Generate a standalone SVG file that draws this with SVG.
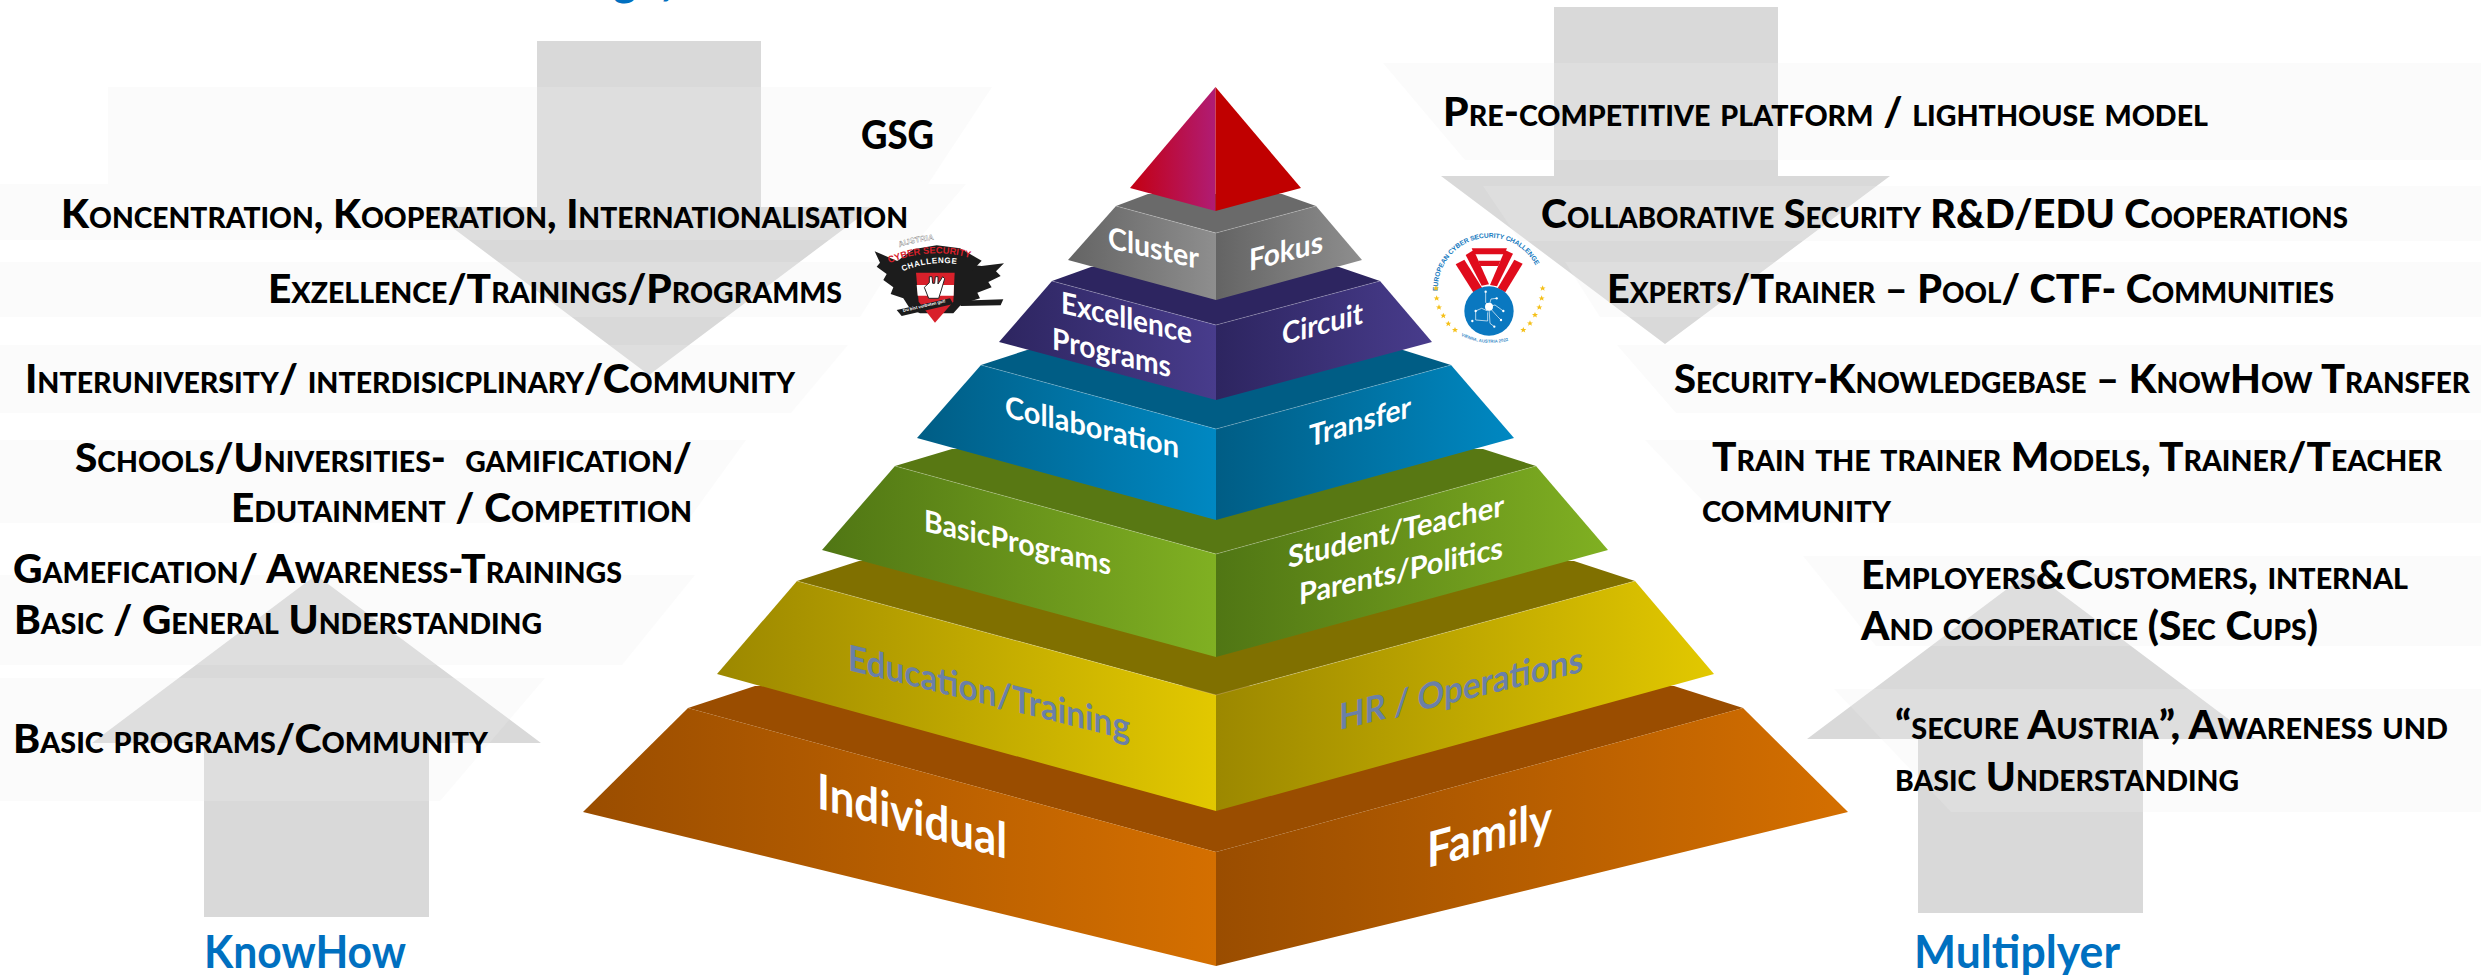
<svg xmlns="http://www.w3.org/2000/svg" width="2481" height="975" viewBox="0 0 2481 975">
<style>
.arrow{fill:#d9d9d9}
.band{fill:#eeeeee;opacity:.24}
.t{font-family:Lato,"Open Sans","Liberation Sans",sans-serif;font-weight:900;font-size:40px;fill:#000;font-variant:small-caps;white-space:pre}
.h{font-family:Lato,"Open Sans","Liberation Sans",sans-serif;font-weight:700;font-size:45px;fill:#0070c0}
.l{font-family:Lato,"Open Sans","Liberation Sans",sans-serif;font-weight:700;font-size:30px;fill:#fff}
.xl{font-size:49px}
.g{font-size:36px;fill:#6a80a8}
.seam{fill:none;stroke:#fff;stroke-opacity:.22;stroke-width:1}
.lg{font-family:"Liberation Sans",Arial,sans-serif;font-weight:700}
</style>
<defs>
<linearGradient id="gO"><stop offset="0" stop-color="#9a4d00"/><stop offset="1" stop-color="#d46f00"/></linearGradient>
<linearGradient id="gY"><stop offset="0" stop-color="#9c8800"/><stop offset="1" stop-color="#e2c800"/></linearGradient>
<linearGradient id="gG"><stop offset="0" stop-color="#507614"/><stop offset="1" stop-color="#80b022"/></linearGradient>
<linearGradient id="gB"><stop offset="0" stop-color="#005d85"/><stop offset="1" stop-color="#0088c2"/></linearGradient>
<linearGradient id="gP"><stop offset="0" stop-color="#2d2560"/><stop offset="1" stop-color="#483c8c"/></linearGradient>
<linearGradient id="gK"><stop offset="0" stop-color="#646464"/><stop offset="1" stop-color="#8e8e8e"/></linearGradient>
<linearGradient id="gR"><stop offset="0" stop-color="#c40012"/><stop offset="1" stop-color="#b01c74"/></linearGradient>
<polygon id="star" points="0,-9 2.6,-2.8 9,-2.8 3.9,1.2 5.8,7.5 0,3.8 -5.8,7.5 -3.9,1.2 -9,-2.8 -2.6,-2.8" fill="#f5c018"/>
<path id="arcE" d="M38 198 A155 155 0 0 1 350 190"/>
<path id="arcV" d="M108 332 Q190 372 278 338"/>
<path id="arcA1" d="M88 52 Q150 30 235 26"/>
<path id="arcA2" d="M58 100 Q195 40 350 100"/>
<path id="arcA3" d="M98 124 Q200 80 315 114"/>
</defs>

<g id="connectors">
<polygon class="arrow" points="537,41 761,41 761,207 873,207 649,375 425,207 537,207"/>
<polygon class="arrow" points="1554,7 1778,7 1778,176 1890,176 1665,344 1441,176 1554,176"/>
<polygon class="arrow" points="204,917 429,917 429,743 541,743 316,575 92,743 204,743"/>
<polygon class="arrow" points="1918,913 2143,913 2143,739 2255,739 2031,571 1807,739 1918,739"/>
</g>

<g id="bands">
<polygon class="band" points="108,87 992,87 928,184 108,184"/>
<polygon class="band" points="0,184 966,184 918,240 0,240"/>
<polygon class="band" points="0,262 895,262 860,317 0,317"/>
<polygon class="band" points="0,345 848,345 791,413 0,413"/>
<polygon class="band" points="0,440 746,440 686,523 0,523"/>
<polygon class="band" points="0,575 695,575 622,665 0,665"/>
<polygon class="band" points="0,678 545,678 440,801 0,801"/>
<polygon class="band" points="1383,63 2481,63 2481,160 1465,160"/>
<polygon class="band" points="1483,186 2481,186 2481,241 1520,241"/>
<polygon class="band" points="1565,262 2481,262 2481,317 1600,317"/>
<polygon class="band" points="1617,345 2481,345 2481,413 1676,413"/>
<polygon class="band" points="1645,440 2481,440 2481,523 1724,523"/>
<polygon class="band" points="1803,556 2481,556 2481,646 1876,646"/>
<polygon class="band" points="1834,689 2481,689 2481,812 1951,812"/>
</g>

<g id="tier-individual">
<polygon fill="#9a4d00" points="688,708 755,686 1674,686 1743,708 1216,852"/>
<polygon fill="url(#gO)" points="688,708 1216,852 1216,966 583,812"/>
<polygon fill="url(#gO)" points="1216,852 1743,708 1848,812 1216,966"/>
<text class="l xl" transform="translate(817,808) skewY(15)" textLength="190" lengthAdjust="spacingAndGlyphs">Individual</text>
<text class="l xl" transform="translate(1427,868) skewY(-15)" textLength="125" lengthAdjust="spacingAndGlyphs">Family</text>
</g>

<g id="tier-education">
<polygon fill="#807000" points="797,581 859,561 1574,561 1635,581 1216,695"/>
<polygon fill="url(#gY)" points="797,581 1216,695 1216,811 717,674"/>
<polygon fill="url(#gY)" points="1216,695 1635,581 1714,674 1216,811"/>
<polyline class="seam" points="797,581 1216,695 1635,581"/>
<text class="l g" transform="translate(848,670) skewY(14)" textLength="282" lengthAdjust="spacingAndGlyphs">Education/Training</text>
<text class="l g" transform="translate(1339,730) skewY(-13.5)" textLength="244" lengthAdjust="spacingAndGlyphs">HR / Operations</text>
</g>

<g id="tier-basic">
<polygon fill="#587813" points="895,466 952,449 1483,449 1536,466 1216,554"/>
<polygon fill="url(#gG)" points="895,466 1216,554 1216,657 822,550"/>
<polygon fill="url(#gG)" points="1216,554 1536,466 1608,550 1216,657"/>
<polyline class="seam" points="895,466 1216,554 1536,466"/>
<text class="l" transform="translate(924,531) skewY(13.3)" textLength="187" lengthAdjust="spacingAndGlyphs">BasicPrograms</text>
<text class="l" transform="translate(1288,568) skewY(-13.6)" textLength="216" lengthAdjust="spacingAndGlyphs">Student/Teacher</text>
<text class="l" transform="translate(1299,605) skewY(-13)" textLength="204" lengthAdjust="spacingAndGlyphs">Parents/Politics</text>
</g>

<g id="tier-collaboration">
<polygon fill="#005d85" points="981,365 1027,350 1403,350 1451,365 1216,429"/>
<polygon fill="url(#gB)" points="981,365 1216,429 1216,520 917,438"/>
<polygon fill="url(#gB)" points="1216,429 1451,365 1514,438 1216,520"/>
<polyline class="seam" points="981,365 1216,429 1451,365"/>
<text class="l" transform="translate(1005,417) skewY(13.3)" textLength="174" lengthAdjust="spacingAndGlyphs">Collaboration</text>
<text class="l" transform="translate(1309,447) skewY(-16.5)" textLength="102" lengthAdjust="spacingAndGlyphs">Transfer</text>
</g>

<g id="tier-excellence">
<polygon fill="#2d2560" points="1052,281 1091,267 1339,267 1380,281 1216,325"/>
<polygon fill="url(#gP)" points="1052,281 1216,325 1216,400 999,342"/>
<polygon fill="url(#gP)" points="1216,325 1380,281 1432,342 1216,400"/>
<polyline class="seam" points="1052,281 1216,325 1380,281"/>
<text class="l" transform="translate(1061,313) skewY(13.3)" textLength="131" lengthAdjust="spacingAndGlyphs">Excellence</text>
<text class="l" transform="translate(1052,349) skewY(13.5)" textLength="119" lengthAdjust="spacingAndGlyphs">Programs</text>
<text class="l" transform="translate(1282,345) skewY(-15)" textLength="81" lengthAdjust="spacingAndGlyphs">Circuit</text>
</g>

<g id="tier-cluster">
<polygon fill="#6a6a6a" points="1116,206 1148,194 1282,194 1316,206 1216,233"/>
<polygon fill="url(#gK)" points="1116,206 1216,233 1216,300 1068,260"/>
<polygon fill="url(#gK)" points="1216,233 1316,206 1362,260 1216,300"/>
<polyline class="seam" points="1116,206 1216,233 1316,206"/>
<text class="l" transform="translate(1108,248) skewY(13)" textLength="91" lengthAdjust="spacingAndGlyphs">Cluster</text>
<text class="l" transform="translate(1249,271) skewY(-14.5)" textLength="74" lengthAdjust="spacingAndGlyphs">Fokus</text>
</g>

<g id="apex">
<polygon fill="url(#gR)" points="1215.5,87 1215.5,211 1130,188"/>
<polygon fill="#c00000" points="1215.5,87 1301,188 1215.5,211"/>
</g>

<g id="logo-austria" transform="translate(870 230) scale(.3333)">
<polygon fill="#1c1c1c" points="150,100 80,92 14,64 30,98 20,110 50,132 40,150 70,172 62,192 100,205 120,236 150,250 250,250 275,222 330,205 322,188 365,172 355,156 392,138 378,124 402,100 335,108 250,100"/>
<polygon fill="#1c1c1c" points="78,96 130,58 200,46 270,55 335,92 300,130 100,130"/>
<polygon fill="#d8202a" points="138,128 254,128 250,215 195,278 146,215"/>
<polygon fill="#fff" points="140,165 252,165 251,197 143,197"/>
<path fill="#fff" stroke="#222" stroke-width="3" d="M163 172 L178 158 L178 140 L186 140 L188 160 L194 160 L196 140 L204 140 L204 162 L212 150 L218 140 L224 146 L214 180 L206 205 L176 205 Z"/>
<polygon fill="#1c1c1c" points="80,240 240,205 250,222 95,258"/>
<polygon fill="#1c1c1c" points="268,212 400,208 392,226 272,228"/>
<text class="lg" font-size="13" fill="#fff" transform="translate(100 246) rotate(-13)">Du bist verboten gut!</text>
<text class="lg" font-size="24" fill="#fff" stroke="#222" stroke-width=".6"><textPath href="#arcA1">AUSTRIA</textPath></text>
<text class="lg" font-size="28" fill="#d8202a"><textPath href="#arcA2">CYBER SECURITY</textPath></text>
<text class="lg" font-size="24" fill="#fff" letter-spacing="2"><textPath href="#arcA3">CHALLENGE</textPath></text>
</g>

<g id="logo-european" transform="translate(1425 225) scale(.3333)">
<text class="lg" font-size="20" fill="#1278be" letter-spacing="-.2"><textPath href="#arcE">EUROPEAN CYBER SECURITY CHALLENGE</textPath></text>
<g fill="#e00c1c">
<polygon points="92,118 118,104 172,190 145,202"/>
<polygon points="122,90 146,75 192,178 170,182"/>
<polygon points="264,86 240,75 195,180 216,184"/>
<polygon points="293,116 268,104 218,190 241,202"/>
<polygon points="140,70 246,70 238,88 148,88"/>
<polygon points="160,107 226,107 220,123 166,123"/>
</g>
<circle cx="192" cy="258" r="74" fill="#0a78c0"/>
<g fill="none" stroke="#fff" stroke-width="2">
<path d="M192 245 L182 232 L182 200 M192 245 L198 222 L215 220 M192 245 L210 240 L235 258 M192 250 L195 295 L208 305 M188 258 L170 250 L152 258 L152 285 L188 288 L188 262 M200 255 L218 275 L228 285"/>
</g>
<g fill="#fff">
<circle cx="192" cy="245" r="12"/><circle cx="182" cy="200" r="3.5"/><circle cx="215" cy="220" r="3.5"/><circle cx="235" cy="258" r="3.5"/><circle cx="208" cy="305" r="3.5"/><circle cx="152" cy="258" r="3.5"/><circle cx="142" cy="288" r="3.5"/><circle cx="228" cy="285" r="3.5"/>
</g>
<use href="#star" x="33" y="190"/><use href="#star" x="35" y="220"/><use href="#star" x="42" y="247"/><use href="#star" x="55" y="272"/><use href="#star" x="70" y="296"/><use href="#star" x="90" y="315"/>
<use href="#star" x="353" y="190"/><use href="#star" x="350" y="220"/><use href="#star" x="343" y="247"/><use href="#star" x="330" y="270"/><use href="#star" x="315" y="295"/><use href="#star" x="295" y="315"/>
<text class="lg" font-size="13" fill="#3a8cc8"><textPath href="#arcV">VIENNA, AUSTRIA 2022</textPath></text>
</g>

<g id="labels-left">
<text class="t" x="861" y="149" textLength="73" lengthAdjust="spacingAndGlyphs">GSG</text>
<text class="t" x="61" y="228" textLength="847" lengthAdjust="spacingAndGlyphs">Koncentration, Kooperation, Internationalisation</text>
<text class="t" x="268" y="303" textLength="574" lengthAdjust="spacingAndGlyphs">Exzellence/Trainings/Programms</text>
<text class="t" x="25" y="393" textLength="770" lengthAdjust="spacingAndGlyphs">Interuniversity/ interdisicplinary/Community</text>
<text class="t" x="75" y="472" textLength="617" lengthAdjust="spacingAndGlyphs">Schools/Universities-  gamification/</text>
<text class="t" x="231" y="522" textLength="461" lengthAdjust="spacingAndGlyphs">Edutainment / Competition</text>
<text class="t" x="13" y="583" textLength="609" lengthAdjust="spacingAndGlyphs">Gamefication/ Awareness-Trainings</text>
<text class="t" x="14" y="634" textLength="528" lengthAdjust="spacingAndGlyphs">Basic / General Understanding</text>
<text class="t" x="13" y="753" textLength="475" lengthAdjust="spacingAndGlyphs">Basic programs/Community</text>
<text class="h" x="204" y="968" textLength="202" lengthAdjust="spacingAndGlyphs">KnowHow</text>
<text class="h" x="613" y="-5">g</text>
<text class="h" x="662" y="-1">/</text>
</g>

<g id="labels-right">
<text class="t" x="1443" y="126" textLength="765" lengthAdjust="spacingAndGlyphs">Pre-competitive platform / lighthouse model</text>
<text class="t" x="1541" y="228" textLength="807" lengthAdjust="spacingAndGlyphs">Collaborative Security R&amp;D/EDU Cooperations</text>
<text class="t" x="1607" y="303" textLength="727" lengthAdjust="spacingAndGlyphs">Experts/Trainer – Pool/ CTF- Communities</text>
<text class="t" x="1674" y="393" textLength="796" lengthAdjust="spacingAndGlyphs">Security-Knowledgebase – KnowHow Transfer</text>
<text class="t" x="1712" y="471" textLength="730" lengthAdjust="spacingAndGlyphs">Train the trainer Models, Trainer/Teacher</text>
<text class="t" x="1702" y="522" textLength="189" lengthAdjust="spacingAndGlyphs">community</text>
<text class="t" x="1861" y="589" textLength="547" lengthAdjust="spacingAndGlyphs">Employers&amp;Customers, internal</text>
<text class="t" x="1861" y="640" textLength="457" lengthAdjust="spacingAndGlyphs">And cooperatice (Sec Cups)</text>
<text class="t" x="1895" y="739" textLength="553" lengthAdjust="spacingAndGlyphs">“secure Austria”, Awareness und</text>
<text class="t" x="1895" y="791" textLength="344" lengthAdjust="spacingAndGlyphs">basic Understanding</text>
<text class="h" x="1914" y="968" textLength="206" lengthAdjust="spacingAndGlyphs">Multiplyer</text>
</g>
</svg>
